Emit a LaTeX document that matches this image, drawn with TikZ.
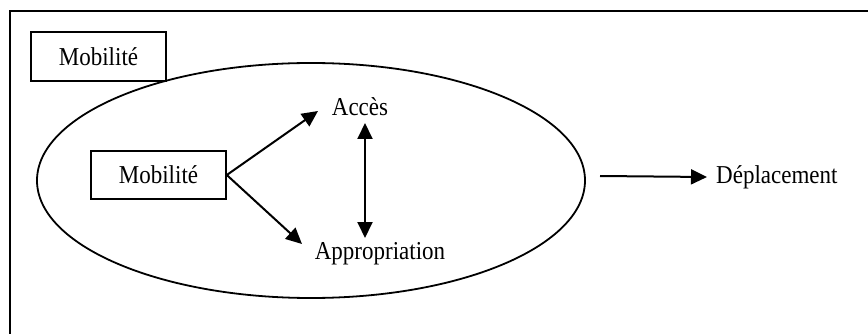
\documentclass[tikz,border=0pt]{standalone}
\usepackage{fontspec}
\setmainfont{Liberation Serif}
\usetikzlibrary{arrows.meta}

\newcommand{\tallText}[1]{\scalebox{1}[1.12]{#1}}

\tikzset{
    label/.style={font=\fontsize{23}{27}\selectfont, inner sep=2pt},
    boxed/.style={label, draw, line width=1.6pt, minimum width=135pt, minimum height=49pt},
    link/.style={line width=2pt, -{Triangle[length=16pt, width=15pt]}},
}

\begin{document}
\begin{tikzpicture}[x=1pt, y=-1pt]
    % Page
    \clip (0,0) rectangle (868,334);
    \useasboundingbox (0,0) rectangle (868,334);
    \fill[white] (0,0) rectangle (868,334);

    % Frame (right and bottom edges fall outside)
    \draw[line width=2.2pt] (900,11) -- (10,11) -- (10,400);

    % Ellipse
    \draw[line width=1.8pt] (311,180.5) ellipse [x radius=274, y radius=117.5];

    % Boxes
    \node[boxed, fill=white] (title) at (98.5,56.5) {\tallText{Mobilité}};
    \node[boxed, minimum height=48pt] (mob) at (158.5,175) {\tallText{Mobilité}};

    % Texts
    \node[label] (acces) at (360,107) {\tallText{Accès}};
    \node[label] (approp) at (380,254) {\tallText{Appropriation}};
    \node[label, anchor=west, inner xsep=9pt] (depl) at (707,177) {\tallText{Déplacement}};

    % Arrows
    \coordinate (start) at (600,176);
    \draw[link] (mob.east) -- (318,111) coordinate (a1);
    \draw[link] (mob.east) -- (302,244) coordinate (a2);
    \draw[link, {Triangle[length=16pt, width=15pt]}-{Triangle[length=16pt, width=15pt]}] (365,123) coordinate (v1) -- (365,238) coordinate (v2);
    \draw[link] (start) -- (depl.west);
\end{tikzpicture}
\end{document}
